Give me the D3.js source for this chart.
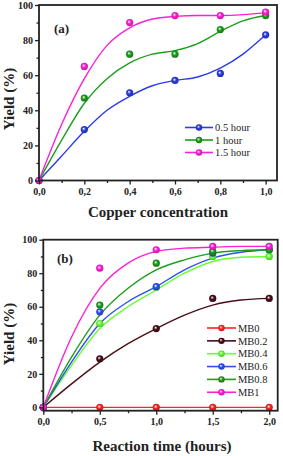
<!DOCTYPE html>
<html><head><meta charset="utf-8">
<script src="https://cdn.jsdelivr.net/npm/d3@7"></script>
<style>body{margin:0;background:#fff}svg{display:block}</style>
</head><body>
<svg id="c" width="283" height="456"></svg>
<script>
// ---- Panel (a) data ----
const copperX = [0, 0.2, 0.4, 0.6, 0.8, 1.0];
const yieldA_05 = [0, 29, 50, 57, 61, 83];
const yieldA_1 = [0, 47, 72, 72, 86, 94];
const yieldA_15 = [0, 65, 90, 94, 94, 96];
// fitted curves
const fitXA = [0, 0.1, 0.2, 0.3, 0.4, 0.5, 0.6, 0.7, 0.8, 0.9, 1.0];
const fitA_05 = [0, 14, 28, 40, 48, 54, 57, 59, 64, 72, 83];
const fitA_1 = [0, 23, 44, 58, 67, 72, 74, 78, 85, 91, 94];
const fitA_15 = [0, 32, 58, 77, 87, 92, 93.5, 94, 94, 94.5, 95.5];
const seriesA = ["0.5 hour", "1 hour", "1.5 hour"];
const colorsA = ["#2b3be6", "#1b9e1b", "#ff1fd6"];
const ticksXA = [0, 0.2, 0.4, 0.6, 0.8, 1.0];
const ticksY = [0, 20, 40, 60, 80, 100];

// ---- Panel (b) data ----
const timeX = [0, 0.5, 1.0, 1.5, 2.0];
const yB_MB0 = [0, 0, 0, 0, 0];
const yB_MB02 = [0, 29, 47, 65, 65];
const yB_MB04 = [0, 50, 71.5, 90, 90];
const yB_MB06 = [0, 57, 72, 92, 94];
const yB_MB08 = [0, 61, 86, 93, 94];
const yB_MB1 = [0, 83, 94, 96, 96];
const fitXB = [0, 0.25, 0.5, 0.75, 1.0, 1.25, 1.5, 1.75, 2.0];
const fitB_MB0 = [0, 0, 0, 0, 0, 0, 0, 0, 0];
const fitB_MB02 = [0, 14, 27, 38, 47, 55, 61, 64, 65];
const fitB_MB04 = [0, 25, 47, 60, 70, 80, 87, 89.5, 90];
const fitB_MB06 = [0, 27, 50, 63, 72, 82, 89, 92.5, 94];
const fitB_MB08 = [0, 30, 55, 71, 82, 88, 92, 93.5, 94];
const fitB_MB1 = [0, 42, 71, 86, 93, 95, 95.5, 96, 96];
const seriesB = ["MB0", "MB0.2", "MB0.4", "MB0.6", "MB0.8", "MB1"];
const colorsB = ["#ff2424", "#4a0d18", "#66ff33", "#2d50f0", "#1b9e1b", "#ff1fd6"];
const ticksXB = [0, 0.5, 1.0, 1.5, 2.0];

const svg = d3.select("#c");
const defs = svg.append("defs");
const serif = "'Liberation Serif','Times New Roman',serif";

function grad(id, col) {
  const g = defs.append("radialGradient").attr("id", id)
    .attr("cx", "50%").attr("cy", "50%").attr("r", "55%").attr("fx", "38%").attr("fy", "35%");
  g.append("stop").attr("offset", "0%").attr("stop-color", "#ffffff");
  g.append("stop").attr("offset", "45%").attr("stop-color", col);
  g.append("stop").attr("offset", "100%").attr("stop-color", d3.color(col).darker(0.9));
}

const fmt = d => d3.format(".1f")(d).replace(".", ",");

function panel(cfg) {
  const g = svg.append("g");
  const x = d3.scaleLinear().domain(cfg.xDomain).range(cfg.xRange);
  const y = d3.scaleLinear().domain(cfg.yDomain).range(cfg.yRange);
  const [x0, x1] = cfg.xRange, [y0, y1] = cfg.yRange;

  // curves
  const line = d3.line().x(d => x(d[0])).y(d => y(d[1])).curve(d3.curveMonotoneX);
  cfg.fits.forEach((f, i) => {
    g.append("path").datum(cfg.fitX.map((v, k) => [v, f[k]]))
      .attr("d", line).attr("fill", "none").attr("stroke", cfg.colors[i]).attr("stroke-width", 1.4);
  });
  // points
  cfg.ys.forEach((s, i) => {
    const gid = cfg.id + i;
    grad(gid, cfg.colors[i]);
    g.selectAll(null).data(cfg.px.map((v, k) => [v, s[k]])).enter().append("circle")
      .attr("cx", d => x(d[0])).attr("cy", d => y(d[1])).attr("r", 3.6)
      .attr("fill", `url(#${gid})`);
  });

  // axes
  const xa = g.append("g").attr("transform", `translate(0,${y0})`)
    .call(d3.axisBottom(x).tickValues(cfg.xTicks).tickFormat(fmt).tickSize(4).tickPadding(3));
  g.append("g").attr("transform", `translate(0,${y0})`)
    .call(d3.axisBottom(x).tickValues(cfg.xMinor).tickFormat("").tickSize(2.5))
    .call(s => s.select(".domain").remove());
  const ya = g.append("g").attr("transform", `translate(${x0},0)`)
    .call(d3.axisLeft(y).tickValues(ticksY).tickSize(4).tickPadding(2));
  g.append("g").attr("transform", `translate(${x0},0)`)
    .call(d3.axisLeft(y).tickValues(cfg.yMinor).tickFormat("").tickSize(2.5))
    .call(s => s.select(".domain").remove());
  g.selectAll(".tick line").attr("stroke", "#222").attr("stroke-width", 1.3);
  g.selectAll(".domain").remove();
  [xa, ya].forEach(a => a.selectAll("text").attr("font-family", serif).attr("font-weight", "bold")
    .attr("font-size", 10).attr("fill", "#222"));
  // frame
  g.append("rect").attr("x", x0).attr("y", y1).attr("width", x1 - x0).attr("height", y0 - y1)
    .attr("fill", "none").attr("stroke", "#222").attr("stroke-width", 1.8);

  // titles
  g.append("text").attr("x", cfg.xTitle[0]).attr("y", cfg.xTitle[1]).attr("text-anchor", "middle")
    .attr("font-family", serif).attr("font-weight", "bold").attr("font-size", 15).attr("fill", "#222")
    .text(cfg.xLabel);
  g.append("text").attr("transform", `translate(${cfg.yTitle[0]},${cfg.yTitle[1]}) rotate(-90)`)
    .attr("text-anchor", "middle").attr("font-family", serif).attr("font-weight", "bold")
    .attr("font-size", 15).attr("fill", "#222").text("Yield (%)");
  g.append("text").attr("x", cfg.tag[0]).attr("y", cfg.tag[1]).attr("font-family", serif)
    .attr("font-weight", "bold").attr("font-size", 13).attr("fill", "#222").text(cfg.tagText);

  // legend
  const lg = g.append("g");
  cfg.names.forEach((n, i) => {
    const yy = cfg.leg.y + i * cfg.leg.dy;
    lg.append("line").attr("x1", cfg.leg.x1).attr("x2", cfg.leg.x2).attr("y1", yy).attr("y2", yy)
      .attr("stroke", cfg.colors[i]).attr("stroke-width", 1.6);
    lg.append("circle").attr("cx", (cfg.leg.x1 + cfg.leg.x2) / 2).attr("cy", yy).attr("r", 3.2)
      .attr("fill", `url(#${cfg.id + i})`);
    lg.append("text").attr("x", cfg.leg.x2 + 2).attr("y", yy).attr("dy", "0.35em")
      .attr("font-family", serif).attr("font-size", 10.5).attr("fill", "#222").text(n);
  });
}

panel({
  id: "ga", xDomain: [0, 1.05], xRange: [39, 277], yDomain: [0, 100], yRange: [180.5, 5],
  px: copperX, ys: [yieldA_05, yieldA_1, yieldA_15],
  fitX: fitXA, fits: [fitA_05, fitA_1, fitA_15], colors: colorsA, names: seriesA,
  xTicks: ticksXA, xMinor: [0.1, 0.3, 0.5, 0.7, 0.9], yMinor: [10, 30, 50, 70, 90],
  xLabel: "Copper concentration", xTitle: [158, 216.5], yTitle: [14, 99],
  tag: [54, 33], tagText: "(a)",
  leg: { x1: 185, x2: 213, y: 127.5, dy: 12.5 }
});
panel({
  id: "gb", xDomain: [0, 2.075], xRange: [43.3, 277.7], yDomain: [-2, 100], yRange: [410.7, 239.7],
  px: timeX, ys: [yB_MB0, yB_MB02, yB_MB04, yB_MB06, yB_MB08, yB_MB1],
  fitX: fitXB, fits: [fitB_MB0, fitB_MB02, fitB_MB04, fitB_MB06, fitB_MB08, fitB_MB1],
  colors: colorsB, names: seriesB,
  xTicks: ticksXB, xMinor: [0.25, 0.75, 1.25, 1.75], yMinor: [10, 30, 50, 70, 90],
  xLabel: "Reaction time (hours)", xTitle: [162, 450.5], yTitle: [14, 334],
  tag: [57, 263], tagText: "(b)",
  leg: { x1: 207, x2: 236, y: 328, dy: 12.85 }
});
</script>
</body></html>
